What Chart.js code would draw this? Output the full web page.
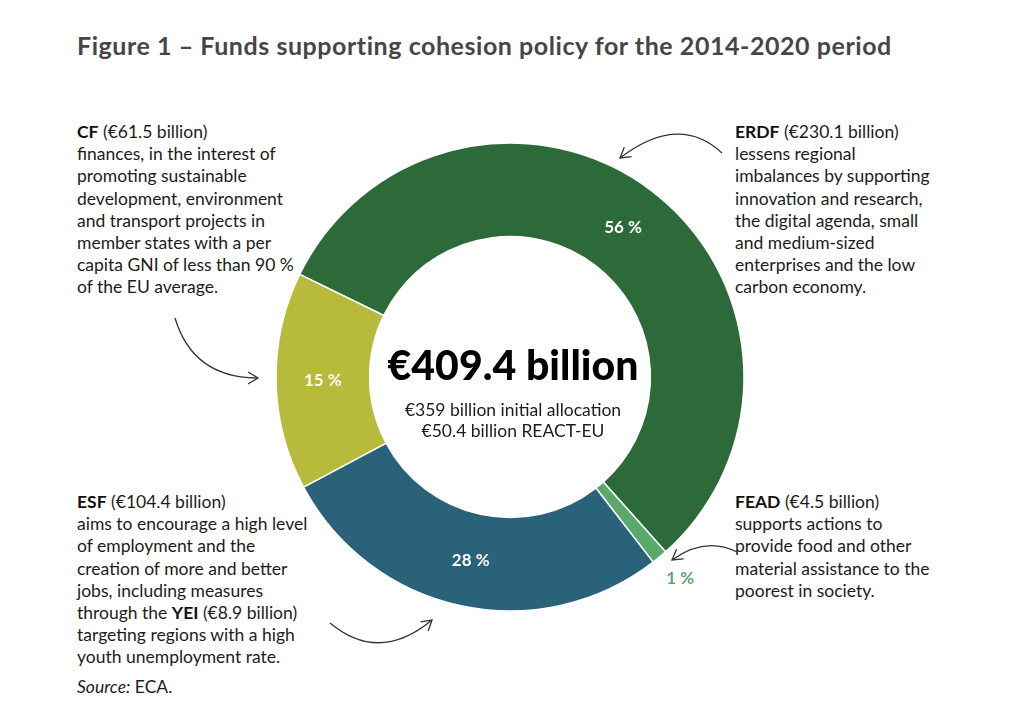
<!DOCTYPE html>
<html lang="en">
<head>
    <meta charset="UTF-8"/>
    <title>Figure 1 – Funds supporting cohesion policy for the 2014-2020 period</title>
    <script src="https://cdn.jsdelivr.net/npm/chart.js"></script>
    <style>
        html, body {
            margin: 0;
            padding: 0;
            background: #fff;
            width: 1024px;
            height: 727px;
            overflow: hidden;
            font-family: Lato, 'Open Sans', sans-serif;
            color: #1c1c1c;
        }
        .page { position: relative; width: 1024px; height: 727px; }
        .title {
            position: absolute; left: 77px; top: 30px;
            font-size: 25px; line-height: 30px; font-weight: bold;
            letter-spacing: 0.55px;
            color: #464646; white-space: nowrap;
        }
        .note {
            position: absolute; font-size: 17.5px; line-height: 22.2px;
            white-space: nowrap;
        }
        .note b { color: #111; }
        .chart-box { position: absolute; left: 260px; top: 127px; width: 500px; height: 500px; }
        .center-text {
            position: absolute; left: 363px; width: 300px; text-align: center;
            white-space: nowrap;
        }
        .big { top: 341px; font-size: 41px; line-height: 48px; font-weight: 900; color: #000; }
        .small { top: 399px; font-size: 17.5px; line-height: 21px; }
        svg.arrows { position: absolute; left: 0; top: 0; pointer-events: none; }
    </style>
</head>
<body>
<div class="page">
    <div class="title">Figure 1 – Funds supporting cohesion policy for the 2014-2020 period</div>

    <div class="note" style="left:77px; top:121px;"><b>CF</b> (€61.5 billion)<br>finances, in the interest of<br>promoting sustainable<br>development, environment<br>and transport projects in<br>member states with a per<br>capita GNI of less than 90 %<br>of the EU average.</div>

    <div class="note" style="left:735px; top:121px;"><b>ERDF</b> (€230.1 billion)<br>lessens regional<br>imbalances by supporting<br>innovation and research,<br>the digital agenda, small<br>and medium-sized<br>enterprises and the low<br>carbon economy.</div>

    <div class="note" style="left:77px; top:491px;"><b>ESF</b> (€104.4 billion)<br>aims to encourage a high level<br>of employment and the<br>creation of more and better<br>jobs, including measures<br>through the <b>YEI</b> (€8.9 billion)<br>targeting regions with a high<br>youth unemployment rate.</div>

    <div class="note" style="left:735px; top:491px;"><b>FEAD</b> (€4.5 billion)<br>supports actions to<br>provide food and other<br>material assistance to the<br>poorest in society.</div>

    <div class="note" style="left:77px; top:676px;"><i>Source:</i> ECA.</div>

    <div class="chart-box"><canvas id="fundsChart"></canvas></div>

    <div class="center-text big">€409.4 billion</div>
    <div class="center-text small">€359 billion initial allocation<br>€50.4 billion REACT-EU</div>

    <svg class="arrows" width="1024" height="727">
        <defs>
            <marker id="head" markerUnits="userSpaceOnUse" markerWidth="14" markerHeight="14"
                    refX="11" refY="7" orient="auto">
                <path d="M1,1 L11,7 L1,13" fill="none" stroke="#333" stroke-width="1.3"/>
            </marker>
        </defs>
        <g fill="none" stroke="#333" stroke-width="1.3" marker-end="url(#head)">
            <path d="M722,153 Q679,113 620,158"/>
            <path d="M175,318 Q193,378 258,378"/>
            <path d="M330,623 Q379,664 432,620"/>
            <path d="M737,552 Q705,536 672,560"/>
        </g>
    </svg>
</div>

<script>
    // fund allocations in EUR billion (ESF slice includes the YEI)
    const fundNames = ['ERDF', 'FEAD', 'ESF', 'CF'];
    const fundValues = [230.1, 4.5, 113.3, 61.5];
    const fundColors = ['#2d6a39', '#5aa96a', '#2a6279', '#b8ba3b'];

    const total = fundValues.reduce((a, b) => a + b, 0);

    // percentage labels: inside the ring, except the tiny FEAD slice which sits outside
    const pctLabels = {
        id: 'pctLabels',
        afterDatasetsDraw(chart) {
            const ctx = chart.ctx;
            const meta = chart.getDatasetMeta(0);
            ctx.save();
            ctx.font = 'bold 17px Lato, sans-serif';
            ctx.textAlign = 'center';
            ctx.textBaseline = 'middle';
            meta.data.forEach((arc, i) => {
                const pct = Math.round(fundValues[i] / total * 100) + ' %';
                if (fundValues[i] / total < 0.03) {
                    const mid = (arc.startAngle + arc.endAngle) / 2;
                    const r = arc.outerRadius + 28;
                    ctx.fillStyle = fundColors[i];
                    ctx.fillText(pct, arc.x + Math.cos(mid) * r + 3, arc.y + Math.sin(mid) * r);
                } else {
                    const p = arc.tooltipPosition();
                    ctx.fillStyle = '#fff';
                    ctx.fillText(pct, p.x, p.y);
                }
            });
            ctx.restore();
        }
    };

    new Chart(document.getElementById('fundsChart'), {
        type: 'doughnut',
        data: {
            labels: fundNames,
            datasets: [{
                data: fundValues,
                backgroundColor: fundColors,
                borderColor: '#fff',
                borderWidth: 1.5,
                hoverOffset: 0
            }]
        },
        options: {
            responsive: true,
            maintainAspectRatio: false,
            animation: false,
            rotation: -64,
            radius: 234,
            cutout: '60%',
            layout: { padding: 0 },
            plugins: {
                legend: { display: false },
                tooltip: { enabled: false }
            }
        },
        plugins: [pctLabels]
    });
</script>
</body>
</html>
